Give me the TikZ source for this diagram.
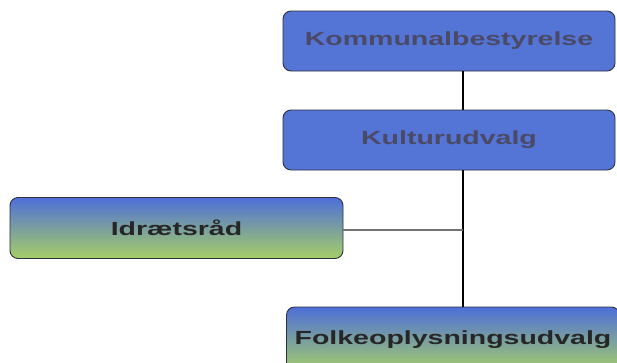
\documentclass[tikz,border=0pt]{standalone}
\usepackage{fontspec}
\usepackage{xcolor}
\newfontfamily\boxfont{Liberation Sans}[FakeStretch=1.5]
\definecolor{boxblue}{HTML}{5474D6}
\definecolor{boxedge}{HTML}{2E3042}
\definecolor{textgrey}{HTML}{4A4A66}
\definecolor{gradtop}{HTML}{4E6FD8}
\definecolor{gradmid}{HTML}{9CC6E0}
\definecolor{gradbot}{HTML}{A6CF66}

\begin{document}
\begin{tikzpicture}[x=1pt,y=-1pt,
            every node/.style = {draw = boxedge, line width = 0.9pt, rounded corners = 8pt,
                                 minimum height = 60pt, minimum width = 332pt,
                                 font = \boxfont\bfseries\fontsize{19}{22}\selectfont},
            bluebox/.style = {fill = boxblue, text = textgrey},
            gradbox/.style = {top color = gradtop, middle color = gradmid, bottom color = gradbot,
                              text = black!85},
            spine/.style = {draw, line width = 2.6pt, black},
            branch/.style = {draw, line width = 2.2pt, black!55}
        ]
        \useasboundingbox (0,0) rectangle (617,362);
        \clip (0,0) rectangle (617,362);

        \node[bluebox] (kommune) at (449,41) {Kommunalbestyrelse};
        \node[bluebox] (kultur) at (449,140) {Kulturudvalg};
        \node[gradbox, minimum height = 61pt, minimum width = 333pt] (idraet) at (176.5,228) {Idr\ae tsr\aa d};
        \node[gradbox, minimum height = 66pt, minimum width = 333pt] (folk) at (453,340) {Folkeoplysningsudvalg};

        \coordinate (spinex) at (463,0);
        \coordinate (junction) at (spinex |- 0,230);

        \draw[spine] (kommune.south -| spinex) -- (kultur.north -| spinex);
        \draw[spine] (kultur.south -| spinex) -- (folk.north -| spinex);
        \draw[branch] (idraet.east |- junction) -- (junction);
    \end{tikzpicture}
\end{document}
